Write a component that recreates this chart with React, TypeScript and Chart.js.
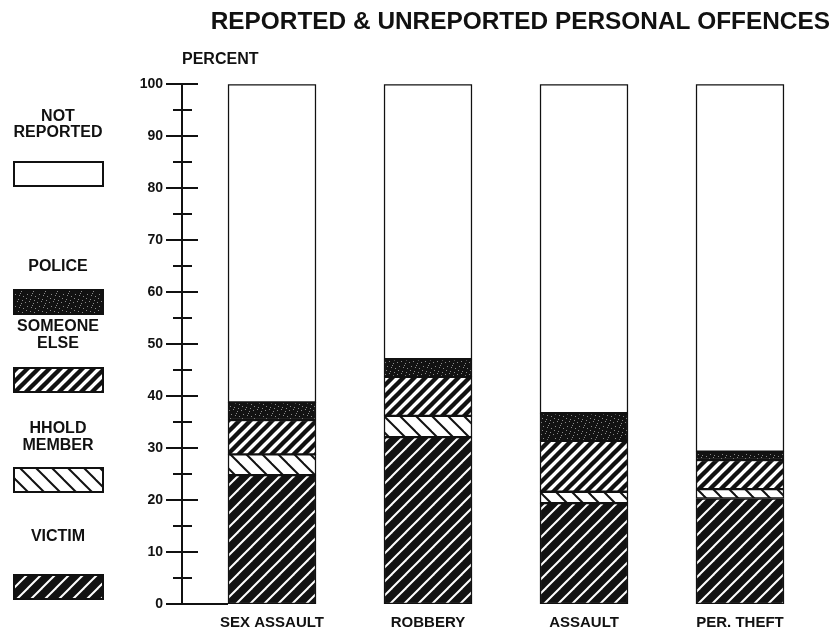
import React, { useEffect, useRef } from 'react';
import { Chart, registerables } from 'chart.js';

Chart.register(...registerables);

// ---------- data ----------
const categories = ['SEX ASSAULT', 'ROBBERY', 'ASSAULT', 'PER. THEFT'];
const victim = [24.8, 32.1, 19.4, 20.3];
const hholdMember = [4.0, 4.1, 2.2, 1.8];
const someoneElse = [6.6, 7.5, 9.8, 5.6];
const police = [3.4, 3.4, 5.3, 1.6];
const notReported = [61.2, 52.9, 63.3, 70.7];
const seriesNames = ['VICTIM', 'HHOLD MEMBER', 'SOMEONE ELSE', 'POLICE', 'NOT REPORTED'];
const legendLines = [['VICTIM'], ['HHOLD', 'MEMBER'], ['SOMEONE', 'ELSE'], ['POLICE'], ['NOT', 'REPORTED']];
const yMin = 0;
const yMax = 100;
const yMinorStep = 5;
const yMajorStep = 10;
const titleText = 'REPORTED & UNREPORTED PERSONAL OFFENCES';
const yAxisTitle = 'PERCENT';

const FONT = '"Liberation Sans", Arial, Helvetica, sans-serif';
const INK = '#111111';

function stripes(ctx: CanvasRenderingContext2D, size: number, bg: string, fg: string, lw: number, dir: '/' | '\\') {
  const c = document.createElement('canvas');
  c.width = size;
  c.height = size;
  const g = c.getContext('2d')!;
  g.fillStyle = bg;
  g.fillRect(0, 0, size, size);
  g.strokeStyle = fg;
  g.lineWidth = lw;
  for (const k of [-size, 0, size]) {
    g.beginPath();
    if (dir === '/') {
      g.moveTo(k - size, 2 * size);
      g.lineTo(k + 2 * size, -size);
    } else {
      g.moveTo(k - size, -size);
      g.lineTo(k + 2 * size, 2 * size);
    }
    g.stroke();
  }
  return ctx.createPattern(c, 'repeat')!;
}

function speckle(ctx: CanvasRenderingContext2D) {
  const c = document.createElement('canvas');
  c.width = 12;
  c.height = 12;
  const g = c.getContext('2d')!;
  g.fillStyle = '#121212';
  g.fillRect(0, 0, 12, 12);
  g.fillStyle = '#8a8a8a';
  const pts = [[1, 2], [5, 1], [9, 3], [3, 6], [7, 7], [11, 8], [2, 10], [6, 11], [10, 0], [8, 5]];
  pts.forEach(([x, y]) => g.fillRect(x, y, 1, 1));
  return ctx.createPattern(c, 'repeat')!;
}

// legend layout (top to bottom): text line centres and box top
const legendLayout = [
  { lines: [117, 133], box: 162 },
  { lines: [267], box: 290 },
  { lines: [327, 344], box: 368 },
  { lines: [429, 446], box: 468 },
  { lines: [537], box: 575 },
];

const decor = {
  id: 'decor',
  afterDraw(chart: any) {
    const { ctx, chartArea, scales } = chart;
    const y = scales.y;
    const x0 = chartArea.left;
    ctx.save();
    ctx.strokeStyle = INK;
    ctx.lineWidth = 2;
    ctx.beginPath();
    ctx.moveTo(x0, y.getPixelForValue(yMax));
    ctx.lineTo(x0, y.getPixelForValue(yMin));
    ctx.stroke();
    y.ticks.forEach((t: any) => {
      const py = Math.round(y.getPixelForValue(t.value));
      const major = t.value % yMajorStep === 0;
      ctx.beginPath();
      ctx.moveTo(x0 - (major ? 16 : 9), py);
      ctx.lineTo(x0 + (major ? 16 : 10), py);
      ctx.stroke();
    });
    const bar = chart.getDatasetMeta(0).data[0];
    const py0 = Math.round(y.getPixelForValue(yMin));
    ctx.beginPath();
    ctx.moveTo(x0, py0);
    ctx.lineTo(bar.x - bar.width / 2, py0);
    ctx.stroke();

    ctx.fillStyle = INK;
    ctx.font = `bold 16px ${FONT}`;
    ctx.textBaseline = 'middle';
    ctx.textAlign = 'left';
    ctx.fillText(yAxisTitle, x0, 60);

    // legend
    const n = chart.data.datasets.length;
    legendLayout.forEach((item, i) => {
      const di = n - 1 - i;
      const ds = chart.data.datasets[di];
      ctx.fillStyle = INK;
      ctx.textAlign = 'center';
      ctx.font = `bold 16px ${FONT}`;
      legendLines[di].forEach((line, li) => {
        ctx.fillText(line, 58, item.lines[li]);
      });
      ctx.fillStyle = ds.backgroundColor;
      ctx.fillRect(14, item.box, 89, 24);
      ctx.lineWidth = 2;
      ctx.strokeStyle = INK;
      ctx.strokeRect(14, item.box, 89, 24);
    });
    ctx.restore();
  },
};

export default function App() {
  const ref = useRef<HTMLCanvasElement>(null);
  useEffect(() => {
    document.body.style.margin = '0';
    const canvas = ref.current!;
    const ctx = canvas.getContext('2d')!;
    const fills = [
      stripes(ctx, 14, '#121212', '#ffffff', 2, '/'),
      stripes(ctx, 16, '#ffffff', INK, 2, '\\'),
      stripes(ctx, 11, '#ffffff', INK, 4.4, '/'),
      speckle(ctx),
      '#ffffff',
    ];
    const series = [victim, hholdMember, someoneElse, police, notReported];
    const chart = new Chart(canvas, {
      type: 'bar',
      data: {
        datasets: series.map((vals, si) => ({
          label: seriesNames[si],
          data: vals.map((v, i) => ({ x: i, y: v })),
          backgroundColor: fills[si] as any,
          borderColor: INK,
          borderWidth: 1.5,
          borderSkipped: false,
          barThickness: 88,
        })),
      },
      options: {
        responsive: false,
        animation: false,
        devicePixelRatio: 1,
        layout: { padding: { left: 122, right: 7, top: 0, bottom: 0 } },
        plugins: {
          legend: { display: false },
          tooltip: { enabled: false },
          title: {
            display: true,
            text: titleText,
            align: 'end',
            color: INK,
            font: { family: FONT, size: 24.4, weight: 'bold' },
            padding: { top: 8, bottom: 47 },
          },
        },
        scales: {
          x: {
            type: 'linear',
            stacked: true,
            offset: false,
            min: -0.577,
            max: 3.577,
            grid: { display: false, drawTicks: false, offset: false },
            border: { display: false },
            afterBuildTicks: (s: any) => {
              s.ticks = categories.map((_, i) => ({ value: i }));
            },
            afterFit: (s: any) => {
              s.height = 34;
            },
            ticks: {
              autoSkip: false,
              maxRotation: 0,
              padding: 10,
              color: INK,
              font: { family: FONT, size: 15, weight: 'bold' },
              callback: (v: any) => categories[v as number] ?? '',
            },
          },
          y: {
            stacked: true,
            min: yMin,
            max: yMax,
            grid: { display: false, drawTicks: false },
            border: { display: false },
            afterFit: (s: any) => {
              s.width = 60;
            },
            ticks: {
              stepSize: yMinorStep,
              padding: 19,
              color: INK,
              font: { family: FONT, size: 14, weight: 'bold' },
              callback: (v: any) => (Number(v) % yMajorStep === 0 ? String(v) : ''),
            },
          },
        },
      },
      plugins: [decor],
    });
    return () => chart.destroy();
  }, []);
  return (
    <div style={{ width: 837, height: 638 }}>
      <canvas ref={ref} width={837} height={638} style={{ display: 'block' }} />
    </div>
  );
}
